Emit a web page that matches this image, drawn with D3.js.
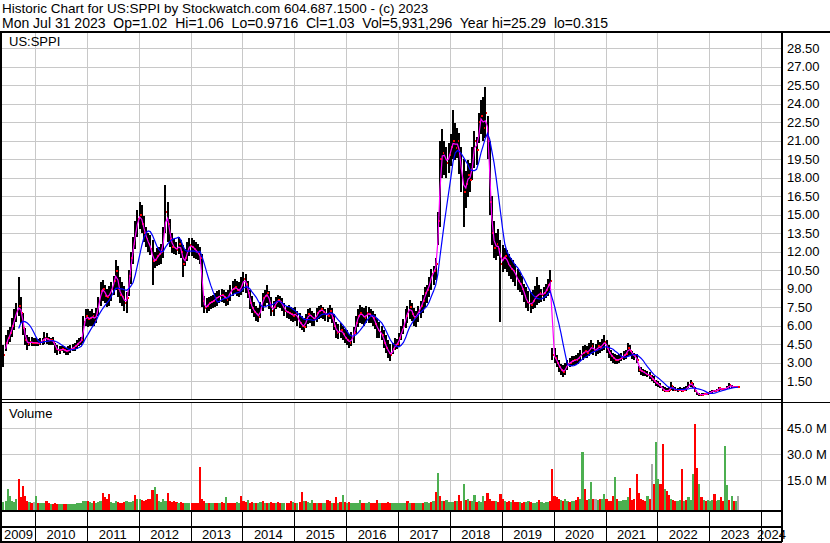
<!DOCTYPE html>
<meta charset="utf-8">
<script src="https://d3js.org/d3.v7.min.js"></script>
<style>
  body { margin: 0; background: #fff; }
  text { font-family: "Liberation Sans", Arial, sans-serif; fill: #000; }
</style>
<svg id="chart" width="830" height="543"></svg>
<script>

// two points a month (8th and 23rd), May 23 2009 .. Jul 23 2023, one row per year
const hi = [
  4.4,5.2,5.6,5.9,6.6,7.3,7.8,9.9,8.3,7.0,5.8,5.2,5.1,5.1,5.0,
  5.0,4.9,5.0,5.0,5.5,5.4,5.1,5.0,5.1,4.6,4.4,4.3, 4.3,4.3,4.2,4.3,4.4,4.5,4.6,4.8,5.0,5.1,6.8,7.3,
  7.3,7.2,7.3,7.0,7.4,8.3,9.5,9.7,9.3,9.0,9.2,9.5, 10.0,11.3,10.8,9.9,9.5,9.2,8.7,10.5,12.0,13.2,14.5,15.4,
  16.0,15.8,14.9,14.0,13.5,13.3,12.9,12.0,12.3,12.4,12.6,14.0, 17.4,16.0,14.6,13.5,13.0,12.8,13.2,12.9,12.5,12.2,12.8,13.1,
  13.1,12.9,12.8,12.6,12.4,11.8,8.4,8.2,8.3,8.4,8.5,8.6, 8.8,8.9,9.0,8.9,8.7,8.9,9.3,9.6,9.8,9.6,9.5,9.9,
  10.3,10.2,9.6,8.9,8.4,7.9,7.6,7.4,7.9,8.6,8.9,9.3, 8.8,8.3,8.0,8.3,8.5,8.4,8.2,7.8,7.6,7.7,7.5,7.4,
  7.5,7.2,7.0,6.8,6.6,6.9,7.3,7.4,7.2,7.0,7.4,7.6, 7.7,7.5,7.3,7.4,7.7,7.4,6.9,6.3,6.1,6.2,6.0,5.7,
  5.6,5.3,5.5,5.9,6.8,7.3,7.7,7.5,7.4,7.6,7.5,7.3, 7.2,6.9,6.6,6.3,6.0,5.6,5.2,4.8,4.5,4.6,5.0,4.9,
  5.4,6.0,6.5,7.3,7.6,8.1,7.8,7.4,7.2,7.6,8.0,8.5, 9.1,9.3,9.9,10.6,10.8,11.5,15.2,21.0,21.9,21.0,20.5,20.8,
  21.5,23.5,22.4,22.0,21.6,20.5,19.5,18.5,19.4,19.2,20.5,21.8, 21.3,23.2,24.3,24.5,25.3,23.0,21.0,16.5,14.5,13.5,13.8,12.9,
  12.5,12.3,12.1,11.8,11.5,11.3,11.0,10.6,10.3,10.0,9.4,9.1, 8.8,8.7,8.9,9.2,9.9,9.3,9.0,9.1,9.4,9.8,10.5,4.2,
  4.2,3.6,3.2,2.9,2.8,3.0,3.2,3.4,3.5,3.5,3.6,3.8, 4.0,4.3,4.4,4.3,4.6,4.8,4.6,4.5,4.8,4.7,4.9,5.2,
  4.8,4.4,4.0,3.8,3.7,3.6,3.7,3.8,3.9,4.0,4.6,4.4, 3.9,3.8,3.7,2.7,2.6,2.5,2.4,2.3,2.2,2.0,1.9,1.6,
  1.5,1.3,1.1,1.0,0.9,1.0,1.4,1.1,1.0,0.9,1.0,0.9, 1.0,1.1,1.4,1.6,1.3,1.0,0.6,0.55,0.5,0.5,0.55,0.6,
  0.7,0.8,0.8,0.85,1.0,0.95,0.95,0.95,1.1,1.3,1.15,1.08,1.05,1.06
];
const lo = [
  2.6,3.9,4.5,4.7,5.1,5.6,6.3,6.8,6.2,5.2,4.4,4.0,4.3,4.3,4.3,
  4.3,4.3,4.4,4.4,4.5,4.5,4.4,4.4,4.4,3.8,3.6,3.7, 3.9,3.8,3.6,3.6,3.8,3.9,3.9,4.1,4.3,4.4,4.6,6.0,
  5.9,6.0,6.0,6.0,6.2,6.8,7.6,8.0,7.8,7.5,7.6,8.0, 8.5,8.9,8.3,7.8,7.6,7.2,7.0,8.4,9.4,11.0,12.2,13.2,
  13.8,13.5,12.8,12.4,12.0,11.7,9.3,10.7,10.8,10.9,11.0,11.5, 13.5,12.8,12.4,11.9,11.8,11.7,11.8,11.5,9.9,10.8,11.2,11.6,
  11.6,11.5,11.4,11.3,11.0,7.5,7.0,7.0,7.2,7.3,7.4,7.5, 7.6,7.8,7.9,7.8,7.6,7.7,8.0,8.4,8.6,8.4,8.3,8.5,
  8.7,8.6,8.2,7.3,7.0,6.7,6.4,6.3,6.6,7.2,7.6,7.8, 7.3,6.8,6.8,7.3,7.5,7.4,7.2,6.8,6.6,6.5,6.4,6.3,
  6.4,6.0,5.8,5.6,5.5,5.8,6.1,6.2,6.0,6.0,6.3,6.5, 6.6,6.5,6.4,6.3,6.5,6.2,5.6,5.0,4.9,5.0,4.8,4.6,
  4.4,4.2,4.3,4.6,5.3,5.9,6.2,6.1,6.0,6.2,6.2,6.2, 6.0,5.7,5.0,5.0,4.8,4.2,3.8,3.4,3.1,3.7,4.0,4.1,
  4.3,4.8,5.3,5.8,6.2,6.5,6.4,6.0,5.9,6.3,6.6,7.0, 7.4,7.8,8.3,8.9,9.3,9.7,12.5,14.0,18.0,18.2,18.0,18.4,
  18.9,19.5,19.4,19.6,18.3,16.8,14.0,15.5,16.4,16.8,17.8,18.8, 19.0,20.8,21.5,21.0,21.2,19.5,15.0,12.5,11.5,11.3,11.6,6.3,
  10.3,10.6,10.3,10.0,9.8,9.5,9.2,8.9,8.7,8.5,7.9,7.4, 7.2,7.0,7.3,7.4,7.7,7.8,7.9,8.0,8.2,8.4,8.6,3.2,
  3.0,2.6,2.2,2.0,1.8,2.0,2.4,2.6,2.7,2.8,2.8,2.9, 3.1,3.2,3.4,3.4,3.5,3.7,3.6,3.5,3.7,3.8,3.9,4.0,
  3.8,3.4,3.1,3.0,2.9,2.9,3.0,3.1,3.2,3.3,3.5,3.6, 3.3,3.2,3.0,2.2,2.0,1.9,1.9,1.8,1.7,1.5,1.3,1.1,
  1.0,0.9,0.7,0.6,0.6,0.6,0.8,0.7,0.7,0.6,0.7,0.6, 0.7,0.7,0.9,1.0,0.9,0.6,0.35,0.32,0.32,0.35,0.38,0.4,
  0.45,0.55,0.6,0.65,0.7,0.75,0.75,0.8,0.85,0.95,0.95,0.95,0.97,0.97
];
const cl = [
  3.6,4.6,5.0,5.4,6.0,6.7,7.2,7.6,7.0,5.8,4.8,4.5,4.7,4.6,4.6,
  4.6,4.5,4.7,4.8,5.0,4.9,4.8,4.8,4.7,4.1,4.0,4.0, 4.1,4.0,3.9,4.0,4.1,4.2,4.3,4.5,4.7,4.8,6.3,6.8,
  6.5,6.6,6.8,6.4,7.0,7.9,8.8,9.0,8.4,8.3,8.6,9.0, 9.6,10.4,9.0,8.5,8.3,7.8,8.2,10.0,11.5,12.6,13.8,14.6,
  15.0,14.2,13.5,13.0,12.6,12.2,11.2,11.3,11.6,11.8,12.0,13.5, 15.2,14.2,13.0,12.4,12.3,12.1,12.6,12.0,11.0,11.5,12.2,12.5,
  12.4,12.2,12.0,11.8,11.5,8.0,7.4,7.6,7.8,7.9,8.0,8.2, 8.3,8.4,8.5,8.3,8.1,8.5,8.8,9.0,9.1,8.9,8.8,9.3,
  9.8,9.4,8.6,7.8,7.4,7.1,6.9,6.7,7.5,8.2,8.4,8.6, 7.8,7.2,7.5,7.9,8.1,7.9,7.6,7.2,7.1,7.0,6.9,6.8,
  7.0,6.5,6.2,6.0,5.9,6.5,6.9,6.8,6.6,6.5,7.0,7.2, 7.3,7.1,6.9,6.8,7.2,6.6,6.0,5.4,5.5,5.6,5.3,5.0,
  4.8,4.6,5.0,5.4,6.2,6.8,7.0,6.8,6.6,7.0,6.9,6.8, 6.6,6.1,5.6,5.5,5.2,4.6,4.2,3.8,3.6,4.1,4.4,4.5,
  5.0,5.6,6.0,6.8,7.1,7.5,6.9,6.6,6.8,7.2,7.6,8.0, 8.6,8.9,9.5,10.2,10.4,11.0,14.5,19.5,20.0,19.6,19.2,19.8,
  20.5,21.0,20.4,21.0,19.4,18.0,16.8,17.5,18.2,17.8,19.8,21.0, 20.2,22.5,23.0,22.0,23.2,21.0,16.0,13.5,12.3,12.6,12.2,11.0,
  11.5,11.6,11.0,10.8,10.6,10.4,10.0,9.6,9.4,9.0,8.4,7.9, 7.8,7.7,8.0,8.3,8.5,8.6,8.5,8.6,8.9,9.3,9.6,3.6,
  3.4,3.0,2.6,2.4,2.2,2.6,2.9,3.0,3.1,3.2,3.2,3.4, 3.6,3.8,3.9,3.8,4.1,4.3,4.0,4.0,4.3,4.2,4.5,4.7,
  4.2,3.8,3.5,3.4,3.2,3.2,3.3,3.4,3.6,3.7,4.2,3.9, 3.6,3.5,3.2,2.4,2.3,2.2,2.1,2.0,1.9,1.7,1.5,1.3,
  1.2,1.0,0.8,0.7,0.7,0.8,1.1,0.8,0.8,0.8,0.8,0.7, 0.8,0.9,1.2,1.3,1.0,0.7,0.45,0.4,0.4,0.42,0.45,0.5,
  0.6,0.7,0.7,0.75,0.9,0.85,0.85,0.88,1.0,1.15,1.05,1.0,1.02,1.03
];
// volume in millions of shares
const vol = [
  2.5,3,10,6,3,2.5,4,15.6,5.5,11.5,6,3,2.5,2,2.5,
  6,2,1.5,1.5,2,3,2,1.2,1.2,1.5,1.2,1, 1,1,1.2,1,1,1.2,1.2,1.5,1.5,2,3,3,
  3,2.5,2,3,2,2.5,3,7.6,5,4,7,2.5, 2,3,2.5,2,2,2.5,3,2.5,2.5,3,6.5,4,
  4,3.5,3,3.5,4,4,9.3,11,7,3,2.5,4, 3,7.6,3,2.5,3,2.5,2,2.5,2,2,1.8,2,
  2,2,1.8,2,22.6,4,3,2,2,1.5,2,1.5, 2,1.5,2.5,2,5,2,1.5,2,2,2.5,2,6,
  3,2.5,3.5,2,2.5,2,1.5,2,2.5,3,2,1.5, 2,2.5,1.5,2,2.5,2,1.8,2,2,1.5,3,2.5,
  2,2,2.5,8,3,3,2.5,2,3.5,2,1.5,1.5, 2,2,2,3.5,3,2,2,5,2,2.5,6.5,2.5,
  2,2.5,1.5,2,1.5,2,3.5,2,1.5,2,2.5,1.5, 2,2,3.5,2,1.5,1.5,2,2.5,1.5,2,2,1.5,
  1.5,2,2,2,3,2,1.5,1.5,1.5,2,2,2, 2.5,2.5,2,2.5,3,8,19.4,6,3,3,3.5,2.5,
  2.5,2.5,3,3,6.5,3,12.6,3.5,4,3,3,6.5, 2.5,3,2.5,6,3,7.6,4,3,3,3,2.5,7,
  4,3,2.5,3,2.5,3.5,2.5,2.5,2.5,2,2.5,2.5, 3,2.5,2,2,2.5,3.5,2.5,2,2.5,2.5,3,21.6,
  6,5,4,3.5,3,4,3,2.5,3,3,3.5,5, 4,31.4,10,3.5,4,13.8,4,4,3.5,4,4,7,
  4,3,3,6,17,4,3,3,3.5,3.5,5,10.5, 3.5,4,18.8,7.6,4,3.5,3,6,4,24.5,12.6,37,
  15.6,12.6,36,10,8.5,6.5,4,3.5,3,3,3.5,21.3, 3,3.5,5,3.5,18.8,47.5,22,13,5,3.5,3,3.5,
  3,3.5,7,3,3.5,5,3,34.8,12,3.5,6,3,3,6
];
// u = up day, d = down day, n = unchanged
const volDir = [
  "uuuuuuudddddudn",
  "uduuuddudddu" + "udduuuuuuuuu",
  "duuduuuddddu" + "uudddduuuudu",
  "udddddduduuu" + "udddddudduuu",
  "ddddddduduud" + "duddudddduud",
  "ddudduduudud" + "uddudduudddu",
  "dudduduuudud" + "duudduddudud",
  "uduuuuudduud" + "ddduddddduuu",
  "uuuududduuud" + "uuududududuu",
  "uududdududuu" + "duuudddddudd",
  "dudduddduddu" + "uduuuduuuudd",
  "ddduduuduudd" + "uudduudnuduu",
  "dddduduuuuud" + "dddddddudndu",
  "udduddudduud" + "uduuuddududu",
  "uuduudduududun"
].join("").split("");

const priceTicks = d3.range(1.5, 28.51, 1.5);
const volTicks = [15, 30, 45];
const years = d3.range(2009, 2025);

const header1 = "Historic Chart for US:SPPI by Stockwatch.com 604.687.1500 - (c) 2023";
const header2 = "Mon Jul 31 2023  Op=1.02  Hi=1.06  Lo=0.9716  Cl=1.03  Vol=5,931,296  Year hi=25.29  lo=0.315";

const dates = hi.map((d, i) => new Date(2009, 4 + Math.floor((i + 1) / 2), i % 2 ? 8 : 23));
const data = dates.map((d, i) => ({date: d, hi: hi[i], lo: lo[i], cl: cl[i], vol: vol[i], dir: volDir[i]}));

const svg = d3.select("#chart");
const L = 2, R = 782;

const x = d3.scaleTime().domain([new Date(2010, 0, 1), new Date(2024, 0, 1)]).range([35, 761]);
const y = d3.scaleLinear().domain([0, 28.5]).range([399.5, 48]);
const yv = d3.scaleLinear().domain([0, 45]).range([506, 428.3]);
const dirColor = d3.scaleOrdinal().domain(["u", "d", "n"]).range(["#4caf50", "#ff0000", "#a8a8a8"]);

svg.append("rect").attr("width", 830).attr("height", 543).attr("fill", "#fff");

// header
svg.append("text").attr("x", 2).attr("y", 12.5).style("font-size", "13.5px").style("white-space", "pre").text(header1);
svg.append("text").attr("x", 2).attr("y", 27.5).style("font-size", "14px").style("white-space", "pre").text(header2);

// grid
const grid = svg.append("g").attr("stroke", "#c8c8c8").attr("stroke-width", 1).attr("shape-rendering", "crispEdges");
grid.selectAll(".hp").data(priceTicks).join("line")
  .attr("x1", L).attr("x2", R).attr("y1", d => Math.round(y(d)) + 0.5).attr("y2", d => Math.round(y(d)) + 0.5);
grid.selectAll(".hv").data(volTicks).join("line")
  .attr("x1", L).attr("x2", R).attr("y1", d => Math.round(yv(d)) + 0.5).attr("y2", d => Math.round(yv(d)) + 0.5);
const yearLines = years.slice(1).map(yr => Math.round(x(new Date(yr, 0, 1))) + 0.5);
grid.selectAll(".vp").data(yearLines).join("line")
  .attr("x1", d => d).attr("x2", d => d).attr("y1", 33).attr("y2", 399);
grid.selectAll(".vv").data(yearLines).join("line")
  .attr("x1", d => d).attr("x2", d => d).attr("y1", 403).attr("y2", 510);

svg.append("text").attr("x", 9).attr("y", 46).style("font-size", "13px").text("US:SPPI");
svg.append("text").attr("x", 9).attr("y", 418).style("font-size", "13px").text("Volume");

// price bars
svg.append("clipPath").attr("id", "pclip").append("rect").attr("x", L).attr("y", 33).attr("width", R - L).attr("height", 366);
const plot = svg.append("g").attr("clip-path", "url(#pclip)").attr("shape-rendering", "crispEdges");
plot.selectAll(".bar").data(data).join("rect")
  .attr("x", d => x(d.date) - 1).attr("width", 2)
  .attr("y", d => y(d.hi)).attr("height", d => y(d.lo) - y(d.hi))
  .attr("fill", "#000");
plot.selectAll(".tick-cl").data(data).join("rect")
  .attr("x", d => x(d.date) + 0.4).attr("width", 1.6)
  .attr("y", d => y(d.cl) - 1).attr("height", 2)
  .attr("fill", "#ff0000");

// moving averages of closes
function sma(n) {
  return data.map((d, i) => [d.date, i < n - 1 ? null : d3.mean(cl.slice(i - n + 1, i + 1))]);
}
const line = d3.line().defined(d => d[1] != null).x(d => x(d[0])).y(d => y(d[1]));
const ma = svg.append("g").attr("clip-path", "url(#pclip)").attr("fill", "none").attr("stroke-width", 1.2);
ma.append("path").attr("d", line(sma(2))).attr("stroke", "#ff00ff");
ma.append("path").attr("d", line(sma(8))).attr("stroke", "#0000ff");

// volume bars
svg.append("g").attr("shape-rendering", "crispEdges")
  .selectAll("rect").data(data).join("rect")
  .attr("x", d => x(d.date) - 1.1).attr("width", 2.2)
  .attr("y", d => yv(d.vol)).attr("height", d => 510 - yv(d.vol))
  .attr("fill", d => dirColor(d.dir));

// axes on the right
const pAxis = svg.append("g").attr("transform", `translate(${R},0)`)
  .call(d3.axisRight(y).tickValues(priceTicks).tickSize(0).tickPadding(5).tickFormat(d3.format(".2f")));
pAxis.select(".domain").remove();
pAxis.attr("font-size", 13).attr("font-family", "Liberation Sans, Arial, sans-serif").attr("color", "#000");

const vAxis = svg.append("g").attr("transform", `translate(${R},0)`)
  .call(d3.axisRight(yv).tickValues(volTicks).tickSize(0).tickPadding(5).tickFormat(d => d.toFixed(1) + " M"));
vAxis.select(".domain").remove();
vAxis.attr("font-size", 13).attr("font-family", "Liberation Sans, Arial, sans-serif").attr("color", "#000");

// frame
const frame = svg.append("g").attr("stroke", "#000").attr("shape-rendering", "crispEdges");
frame.append("line").attr("x1", 0).attr("x2", 830).attr("y1", 31.5).attr("y2", 31.5).attr("stroke-width", 2);
frame.append("line").attr("x1", 1).attr("x2", 1).attr("y1", 31).attr("y2", 542).attr("stroke-width", 2);
frame.append("line").attr("x1", R).attr("x2", R).attr("y1", 31).attr("y2", 542).attr("stroke-width", 2);
frame.append("line").attr("x1", 0).attr("x2", R).attr("y1", 399.5).attr("y2", 399.5).attr("stroke-width", 1);
frame.append("line").attr("x1", 0).attr("x2", 830).attr("y1", 402.5).attr("y2", 402.5).attr("stroke-width", 1);
frame.append("line").attr("x1", 0).attr("x2", R).attr("y1", 511).attr("y2", 511).attr("stroke-width", 2);
frame.append("line").attr("x1", 0).attr("x2", R).attr("y1", 526.5).attr("y2", 526.5).attr("stroke-width", 2);
frame.append("line").attr("x1", 0).attr("x2", R).attr("y1", 541.5).attr("y2", 541.5).attr("stroke-width", 2);
frame.selectAll(".sep").data(yearLines).join("line")
  .attr("x1", d => d).attr("x2", d => d).attr("y1", 511).attr("y2", 541).attr("stroke-width", 1);

// year labels, centred in each year's slot
svg.selectAll(".yr").data(years).join("text")
  .attr("x", yr => (Math.max(L, x(new Date(yr, 0, 1))) + Math.min(R, x(new Date(yr + 1, 0, 1)))) / 2)
  .attr("y", 539)
  .attr("text-anchor", "middle")
  .style("font-size", "13px")
  .text(yr => yr);

</script>
